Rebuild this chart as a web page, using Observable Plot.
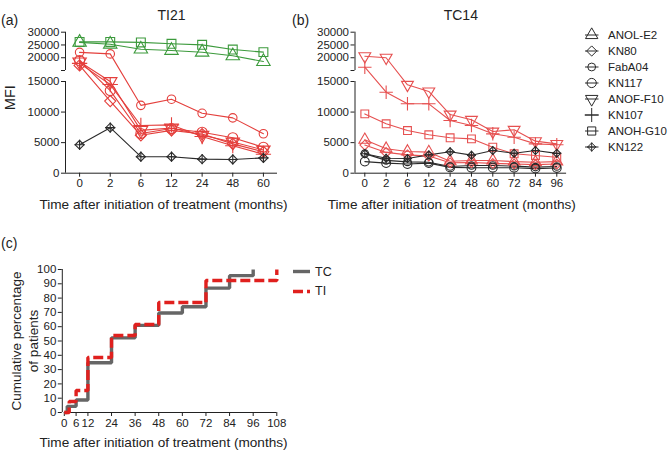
<!DOCTYPE html>
<html><head><meta charset="utf-8">
<script src="https://cdn.jsdelivr.net/npm/d3@7"></script>
<script src="https://cdn.jsdelivr.net/npm/@observablehq/plot@0.6"></script>
<style>
body{margin:0;background:#fff;}
#root{position:relative;width:670px;height:456px;overflow:hidden;font-family:"Liberation Sans",Arial,sans-serif;color:#222;}
.pane{position:absolute;}
.plabel{position:absolute;font-size:14px;line-height:14px;}
.leg{position:absolute;font-size:11.5px;}
.leg .row{display:flex;align-items:center;height:16px;}
.leg svg{flex:none;}
</style></head><body><div id="root"></div>
<script>
// ---------- data ----------
const monthsTI21 = ["0","2","6","12","24","48","60"];
const monthsTC14 = ["0","2","6","12","24","48","60","72","84","96"];
const antibodies = ["ANOL-E2","KN80","FabA04","KN117","ANOF-F10","KN107","ANOH-G10","KN122"];

// TI21 MFI per antibody (same order as antibodies)
const ti21_ANOL_E2  = [26000, 25300, 23350, 22850, 22150, 20750, 18500];
const ti21_KN80     = [17000, 11800, 6200, 7000, 6400, 4800, 3500];
const ti21_FabA04   = [22100, 21500, 11100, 12100, 9800, 9050, 6450];
const ti21_KN117    = [18900, 13500, 6500, 7300, 6700, 5800, 4250];
const ti21_ANOF_F10 = [18400, 15000, 7000, 7400, 6200, 5100, 3800];
const ti21_KN107    = [17800, 14500, 7800, 7900, 6000, 4500, 3100];
const ti21_ANOH_G10 = [26200, 26200, 26000, 25450, 25050, 23200, 22200];
const ti21_KN122    = [4650, 7450, 2700, 2700, 2300, 2250, 2500];

// TC14 MFI per antibody
const tc14_ANOL_E2  = [5460, 3990, 3550, 3440, 1950, 2080, 2080, 1900, 1800, 1900];
const tc14_KN80     = [4600, 3400, 3000, 2800, 1700, 1750, 1600, 1500, 1400, 1500];
const tc14_FabA04   = [3200, 2100, 1850, 1800, 1100, 1250, 1250, 1150, 1000, 1100];
const tc14_KN117    = [1900, 1650, 1500, 1650, 950, 900, 900, 900, 750, 850];
const tc14_ANOF_F10 = [20600, 20000, 14460, 13370, 9600, 8730, 6820, 7100, 5240, 4800];
const tc14_KN107    = [16300, 13250, 11350, 11350, 8620, 7800, 6440, 5890, 4800, 4650];
const tc14_ANOH_G10 = [9700, 8080, 6980, 6280, 5790, 5620, 4250, 3170, 2900, 2620];
const tc14_KN122    = [3170, 2450, 2400, 3000, 3500, 2950, 3710, 3270, 3710, 3250];

// broken MFI axis
const mfiTicks = [0, 5000, 10000, 15000, 20000, 25000, 30000];
const mfiBreak = [15000, 15001];

// cumulative percentage (panel c)
const cumMonthTicks = [0, 6, 12, 24, 36, 48, 60, 72, 84, 96, 108];
const cumPctTicks = [0, 10, 20, 30, 40, 50, 60, 70, 80, 90, 100];
const tcMonths = [0, 1.5, 6, 12, 24, 36, 48, 60, 72, 84, 96];
const tcPct    = [0, 4.3, 8.7, 34.8, 52.2, 60.9, 69.6, 73.9, 87.0, 95.7, 100];
const tiMonths = [0, 2.5, 6, 12, 24, 36, 48, 72, 108];
const tiPct    = [0, 7.7, 15.4, 38.5, 53.8, 61.5, 76.9, 92.3, 100];
const groups = ["TC", "TI"];

// ---------- styles ----------
const RED = "#e43f3c", RED_B = "#e65050", GREEN = "#3c9a3c", DARK = "#2a2a2a", AXIS = "#222";
const colorsTI21 = {"ANOL-E2":GREEN,"KN80":RED,"FabA04":RED,"KN117":RED,"ANOF-F10":RED,"KN107":RED,"ANOH-G10":GREEN,"KN122":DARK};
const colorsTC14 = {"ANOL-E2":RED_B,"KN80":RED_B,"FabA04":DARK,"KN117":DARK,"ANOF-F10":RED_B,"KN107":RED_B,"ANOH-G10":RED_B,"KN122":DARK};
const markerOf = {
  "ANOL-E2":{symbol:"triangle"}, "KN80":{symbol:"diamond2"}, "FabA04":{symbol:"circle", k:0.85},
  "KN117":{symbol:"circle"}, "ANOF-F10":{symbol:"triangle", rotate:180}, "KN107":{symbol:"plus"},
  "ANOH-G10":{symbol:"square"}, "KN122":{symbol:"diamond2", extra:"plus", k:0.8}
};
const FONT = '"Liberation Sans", Arial, sans-serif';
const root = document.getElementById("root");

function place(node, left, top) {
  const d = document.createElement("div");
  d.className = "pane"; d.style.left = left + "px"; d.style.top = top + "px";
  d.appendChild(node); root.appendChild(d);
}

function mfiPanel({months, values, colors, title, r, width, marginLeft, marginRight, xLabelDx, showMFI}) {
  const rows = [];
  antibodies.forEach((name, k) => values[k].forEach((v, i) => rows.push({name, i, v})));
  const pad = 0.46, n = months.length;
  const marks = [
    Plot.ruleY([0], {stroke: AXIS}),
    Plot.ruleX([[mfiTicks[0], mfiBreak[0]], [mfiBreak[1], mfiTicks[mfiTicks.length - 1]]],
      {x: () => -pad, y1: d => d[0], y2: d => d[1], stroke: AXIS}),
    Plot.axisY({ticks: [...mfiTicks, mfiBreak[1]], tickFormat: d => d === mfiBreak[1] ? "" : String(d),
      tickSize: 4, tickPadding: 2, label: null, stroke: AXIS}),
    Plot.axisX({ticks: d3.range(n), tickFormat: i => months[i], tickSize: 4, tickPadding: 2, label: null, stroke: AXIS}),
    Plot.line(rows, {x: "i", y: "v", z: "name", stroke: d => colors[d.name], strokeWidth: 1.1})
  ];
  antibodies.forEach(name => {
    const m = markerOf[name];
    const sub = rows.filter(d => d.name === name);
    const rr = r * (m.k || 1);
    marks.push(Plot.dot(sub, {x: "i", y: "v", symbol: m.symbol, rotate: m.rotate || 0, r: rr,
      fill: "none", stroke: colors[name], strokeWidth: 1.1}));
    if (m.extra) marks.push(Plot.dot(sub, {x: "i", y: "v", symbol: m.extra, r: rr * 0.85,
      fill: "none", stroke: colors[name], strokeWidth: 1.1}));
  });
  marks.push(Plot.text([title], {text: d => d, frameAnchor: "top", dy: -22, fontSize: 14}));
  marks.push(Plot.text(["Time after initiation of treatment (months)"], {text: d => d, frameAnchor: "bottom", dy: 36, dx: xLabelDx, fontSize: 13.6}));
  if (showMFI) marks.push(Plot.text(["MFI"], {text: d => d, frameAnchor: "left", textAnchor: "middle", lineAnchor: "middle", rotate: -90, dx: -55, dy: -5, fontSize: 14.5}));
  return Plot.plot({
    width, height: 225, marginLeft, marginRight, marginTop: 31.7, marginBottom: 52.3,
    x: {type: "linear", domain: [-pad, n - 1 + pad]},
    y: {type: "linear", domain: [mfiTicks[0], mfiBreak[0], mfiBreak[1], mfiTicks[mfiTicks.length - 1]], range: [172.7, 81, 70, 31.7]},
    style: {fontFamily: FONT, fontSize: "11.5px", color: "#222", background: "transparent", overflow: "visible"},
    marks
  });
}

place(mfiPanel({months: monthsTI21,
  values: [ti21_ANOL_E2, ti21_KN80, ti21_FabA04, ti21_KN117, ti21_ANOF_F10, ti21_KN107, ti21_ANOH_G10, ti21_KN122],
  colors: colorsTI21, title: "TI21", r: 5, width: 290, marginLeft: 65, marginRight: 13, xLabelDx: -8, showMFI: true}), 0, 0);

place(mfiPanel({months: monthsTC14,
  values: [tc14_ANOL_E2, tc14_KN80, tc14_FabA04, tc14_KN117, tc14_ANOF_F10, tc14_KN107, tc14_ANOH_G10, tc14_KN122],
  colors: colorsTC14, title: "TC14", r: 4.4, width: 290, marginLeft: 64.5, marginRight: 13.9, xLabelDx: -9, showMFI: false}), 290, 0);

// panel c
const tcRows = tcMonths.map((m, i) => ({m, p: tcPct[i]}));
const tiRows = tiMonths.map((m, i) => ({m, p: tiPct[i]}));
const plotC = Plot.plot({
  width: 290, height: 226, marginLeft: 63.8, marginRight: 13.7, marginTop: 39, marginBottom: 44,
  x: {domain: [0, 108]}, y: {domain: [0, 100]},
  style: {fontFamily: FONT, fontSize: "11.5px", color: "#222", background: "transparent", overflow: "visible"},
  marks: [
    Plot.ruleY([0], {stroke: AXIS}),
    Plot.ruleX([0], {stroke: AXIS, dx: -2}),
    Plot.axisX({ticks: cumMonthTicks, tickSize: 4, tickPadding: 2, label: null, stroke: AXIS, letterSpacing: "-0.6px"}),
    Plot.axisY({ticks: cumPctTicks, tickSize: 4, tickPadding: 2, label: null, stroke: AXIS, dx: -2}),
    Plot.line(tcRows, {x: "m", y: "p", curve: "step-after", stroke: "#666666", strokeWidth: 3.4, strokeLinecap: "butt", strokeLinejoin: "miter"}),
    Plot.line(tiRows, {x: "m", y: "p", curve: "step-after", stroke: "#e0201e", strokeWidth: 3.4, strokeDasharray: "10,4", strokeLinecap: "butt", strokeLinejoin: "miter"}),
    Plot.text(["Cumulative percentage\nof patients"], {text: d => d, frameAnchor: "left", textAnchor: "middle", lineAnchor: "middle", rotate: -90, dx: -40, fontSize: 13.5, lineHeight: 1.25}),
    Plot.text(["Time after initiation of treatment (months)"], {text: d => d, frameAnchor: "bottom", dy: 34.7, dx: -7, fontSize: 13.6})
  ]
});
place(plotC, 0, 230);

// panel labels
[["(a)", 1, 13], ["(b)", 292, 13], ["(c)", 1, 236]].forEach(([t, x, y]) => {
  const s = document.createElement("div"); s.className = "plabel"; s.textContent = t;
  s.style.left = x + "px"; s.style.top = y + "px"; root.appendChild(s);
});

// legend (b)
const symType = {triangle: d3.symbolTriangle, diamond2: d3.symbolDiamond2, circle: d3.symbolCircle,
  plus: d3.symbolPlus, square: d3.symbolSquare};
const legB = document.createElement("div"); legB.className = "leg";
legB.style.left = "583px"; legB.style.top = "26.5px";
antibodies.forEach(name => {
  const m = markerOf[name], rr = 4.6 * (m.k || 1);
  const row = document.createElement("div"); row.className = "row";
  const svg = d3.create("svg").attr("width", 25).attr("height", 16);
  svg.append("line").attr("x1", 2).attr("x2", 15.5).attr("y1", 8).attr("y2", 8).attr("stroke", DARK);
  const g = svg.append("g").attr("transform", `translate(8.7,8) rotate(${m.rotate || 0})`);
  g.append("path").attr("d", d3.symbol(symType[m.symbol], Math.PI * rr * rr)()).attr("fill", "none").attr("stroke", DARK);
  if (m.extra) g.append("path").attr("d", d3.symbol(symType[m.extra], Math.PI * rr * rr * 0.7)()).attr("fill", "none").attr("stroke", DARK);
  row.appendChild(svg.node());
  const sp = document.createElement("span"); sp.textContent = name; row.appendChild(sp);
  legB.appendChild(row);
});
root.appendChild(legB);

// legend (c)
const legC = document.createElement("div"); legC.className = "leg";
legC.style.left = "292px"; legC.style.top = "262px"; legC.style.fontSize = "12.5px";
groups.forEach((gname, i) => {
  const row = document.createElement("div"); row.className = "row"; row.style.height = "19.5px";
  const svg = d3.create("svg").attr("width", 23).attr("height", 19);
  const ln = svg.append("line").attr("x1", 1).attr("x2", 18).attr("y1", 9.5).attr("y2", 9.5)
    .attr("stroke-width", 3.4).attr("stroke", i === 0 ? "#666666" : "#e0201e");
  if (i === 1) ln.attr("stroke-dasharray", "10,4");
  row.appendChild(svg.node());
  const sp = document.createElement("span"); sp.textContent = gname; row.appendChild(sp);
  legC.appendChild(row);
});
root.appendChild(legC);
</script></body></html>
